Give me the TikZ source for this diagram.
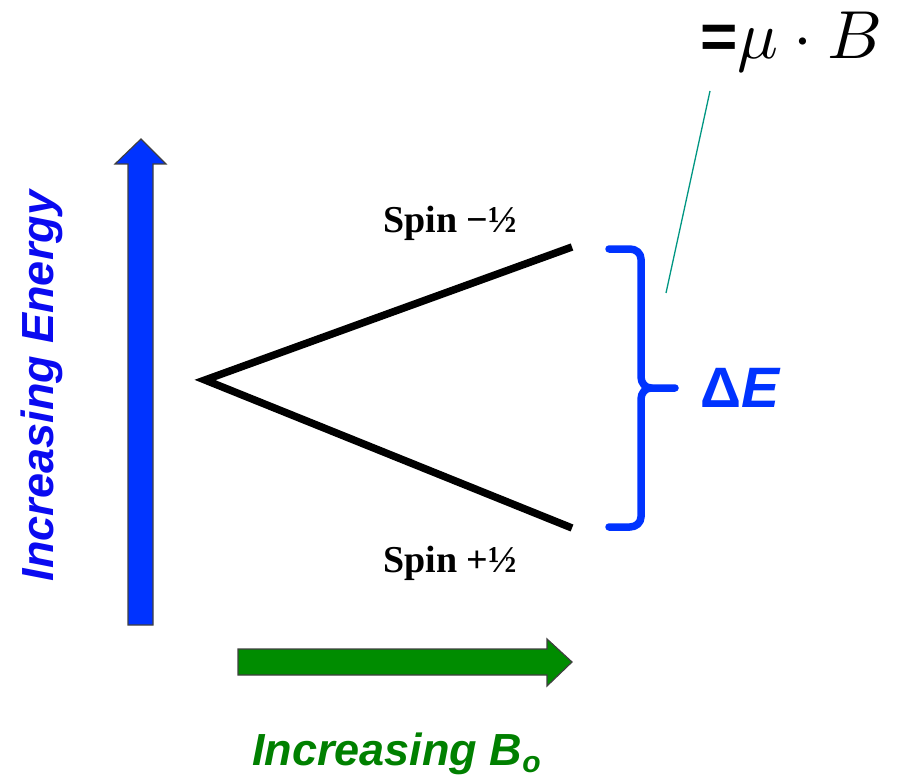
\documentclass[tikz,border=0pt]{standalone}
\usepackage{fontspec}
\usepackage{unicode-math}
\setmathfont{Latin Modern Math}
\setmainfont{Liberation Serif}
\setsansfont{Liberation Sans}
\definecolor{arrowblue}{RGB}{0,51,255}
\definecolor{txtblue}{RGB}{10,10,240}
\definecolor{arrowgreen}{RGB}{0,140,0}
\definecolor{txtgreen}{RGB}{0,128,0}
\definecolor{teal}{RGB}{0,150,130}
\begin{document}
\begin{tikzpicture}[x=1pt,y=-1pt,
  level/.style={line width=7.5pt,black,line cap=butt,line join=miter},
  brace/.style={line width=7.5pt,arrowblue,line cap=round,line join=round},
  fatarrow/.style={draw=black!75,line width=1.2pt,line join=miter},
  spinlbl/.style={font=\fontsize{38}{38}\selectfont\bfseries,inner sep=0pt},
  axislbl/.style={font=\fontsize{45}{45}\selectfont\sffamily\bfseries\itshape,inner sep=0pt}]
\useasboundingbox (0,0) rectangle (907,778);
% blue energy arrow
\filldraw[fatarrow,fill=arrowblue] (128,625) -- (128,164) -- (115,164) -- (141,139) -- (166,164) -- (153,164) -- (153,625) -- cycle;
% green field arrow
\filldraw[fatarrow,fill=arrowgreen] (238,649) -- (547,649) -- (547,639) -- (572,662) -- (547,686) -- (547,675) -- (238,675) -- cycle;
% axis labels
\node[axislbl,text=txtblue,rotate=90] (energy) at (42,386) {Increasing Energy};
\node[axislbl,text=txtgreen,anchor=base west] (field) at (252,765) {Increasing B\raisebox{-0.17em}{\fontsize{30}{30}\selectfont o}};
% energy levels
\coordinate (v) at (205,380);
\coordinate (up) at (572,247);
\coordinate (down) at (572,528);
\draw[level] (up) -- (v) -- (down);
\node[spinlbl,anchor=base west] (sm) at (383,233) {Spin −½};
\node[spinlbl,anchor=base west] (sp) at (383,572) {Spin +½};
% bracket
\draw[brace] (609,249) -- (630,249) to[out=0,in=90] (641,259) -- (641,377)
  to[out=-90,in=180] (651,388) -- (675,388);
\draw[brace] (651,388) to[out=180,in=90] (641,399) -- (641,517)
  to[out=-90,in=0] (630,527) -- (609,527);
\node[font=\fontsize{57}{57}\selectfont\sffamily\bfseries,text=arrowblue,anchor=base west,inner sep=0pt] (dE) at (700,407) {Δ\textit{E}};
% formula and pointer
\node[inner sep=0pt,font=\fontsize{68}{68}\selectfont,anchor=base west] (mu) at (700,59) {{\fontsize{64}{64}\selectfont\sffamily\bfseries =}$\mu\cdot B$};
\coordinate (p1) at (710,91);
\coordinate (p2) at (666,293);
\draw[teal,line width=1.3pt] (p1) -- (p2);
\end{tikzpicture}
\end{document}
